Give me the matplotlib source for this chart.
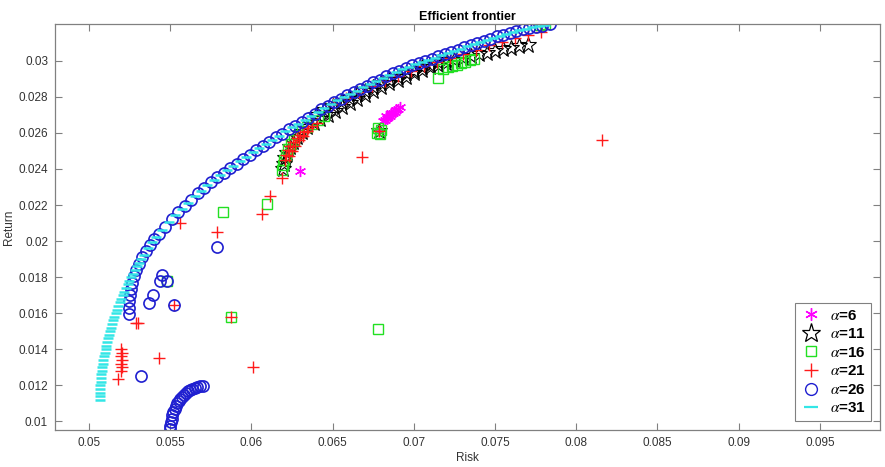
import matplotlib
matplotlib.use("Agg")
import matplotlib.pyplot as plt
from matplotlib.lines import Line2D

plt.rcParams['font.family'] = ['Liberation Sans', 'DejaVu Sans']
plt.rcParams['mathtext.fontset'] = 'stix'

# ---------------- data ----------------
legend_labels = [r'$\alpha$=6', r'$\alpha$=11', r'$\alpha$=16', r'$\alpha$=21', r'$\alpha$=26', r'$\alpha$=31']

# alpha = 6 (magenta *)
a6_risk = [0.06299, 0.06785, 0.06812, 0.06822, 0.06832, 0.06842, 0.06852, 0.06862, 0.06872,
           0.06882, 0.06892, 0.06902, 0.06912, 0.06830, 0.06860, 0.06890]
a6_ret = [0.02391, 0.02612, 0.02665, 0.02672, 0.02680, 0.02688, 0.02695, 0.02703, 0.02711,
          0.02718, 0.02726, 0.02733, 0.02742, 0.02692, 0.02712, 0.02725]

# alpha = 11 (black pentagram)
a11_risk = [0.06196, 0.06200, 0.06208, 0.06220, 0.06235, 0.06255, 0.06280, 0.06310, 0.06345,
            0.06385, 0.06425, 0.06470, 0.06515, 0.06560, 0.06605, 0.06650, 0.06700, 0.06750,
            0.06800, 0.06850, 0.06900, 0.06950, 0.07000, 0.07050, 0.07100, 0.07150, 0.07200,
            0.07250, 0.07300, 0.07350, 0.07400, 0.07450, 0.07500, 0.07550, 0.07600, 0.07650,
            0.07700, 0.06785,
            0.06400, 0.06450, 0.06500, 0.06550, 0.06600, 0.06650, 0.06700, 0.06750, 0.06800,
            0.06850, 0.06900, 0.06950, 0.07000, 0.07050, 0.07100, 0.07150, 0.07200]
a11_ret = [0.02400, 0.02430, 0.02460, 0.02490, 0.02520, 0.02550, 0.02578, 0.02605, 0.02630,
           0.02655, 0.02675, 0.02698, 0.02720, 0.02742, 0.02765, 0.02787, 0.02810, 0.02832,
           0.02855, 0.02876, 0.02895, 0.02912, 0.02930, 0.02948, 0.02963, 0.02977, 0.02990,
           0.03002, 0.03013, 0.03025, 0.03035, 0.03045, 0.03055, 0.03063, 0.03072, 0.03080,
           0.03087, 0.02612,
           0.02700, 0.02725, 0.02750, 0.02772, 0.02795, 0.02815, 0.02835, 0.02857, 0.02875,
           0.02895, 0.02912, 0.02930, 0.02946, 0.02963, 0.02977, 0.02992, 0.03005]

# alpha = 16 (green square)
a16_risk = [0.05827, 0.06097, 0.05874, 0.06781, 0.05478, 0.06772, 0.06790, 0.06780, 0.06795,
            0.06186, 0.06192, 0.06200, 0.06212, 0.06226, 0.06242, 0.06262, 0.06285, 0.06312,
            0.06342, 0.06375, 0.06410, 0.06450,
            0.07150, 0.07182, 0.07210, 0.07235, 0.07263, 0.07290, 0.07318, 0.07345, 0.07370,
            0.07776, 0.07810]
a16_ret = [0.02163, 0.02205, 0.01577, 0.01512, 0.01778, 0.02600, 0.02595, 0.02625, 0.02615,
           0.02392, 0.02420, 0.02450, 0.02480, 0.02510, 0.02538, 0.02563, 0.02587, 0.02610,
           0.02632, 0.02652, 0.02672, 0.02692,
           0.02904, 0.02955, 0.02965, 0.02970, 0.02978, 0.02988, 0.02996, 0.03006, 0.03012,
           0.03200, 0.03203]

# alpha = 21 (red +)
a21_risk = [0.05289, 0.05305, 0.05198, 0.05202, 0.05198, 0.05202, 0.05198, 0.05202, 0.05200,
            0.05176, 0.05431, 0.06012, 0.05874, 0.05786, 0.05560, 0.05523, 0.06114, 0.06065,
            0.06186, 0.06681, 0.08158, 0.06785,
            0.06207, 0.06215, 0.06227, 0.06240, 0.06258, 0.06278, 0.06299, 0.06323, 0.06350,
            0.06375, 0.06402, 0.06230, 0.06250, 0.06270, 0.06295, 0.06320, 0.06345,
            0.06500, 0.06580, 0.06660, 0.06740, 0.06820, 0.06900, 0.06980, 0.07060, 0.07140,
            0.07220, 0.07300, 0.07380, 0.07460, 0.07540, 0.07620, 0.07700, 0.07780]
a21_ret = [0.01547, 0.01545, 0.01280, 0.01300, 0.01320, 0.01340, 0.01360, 0.01380, 0.01400,
           0.01235, 0.01349, 0.01301, 0.01577, 0.02052, 0.02100, 0.01645, 0.02250, 0.02148,
           0.02348, 0.02468, 0.02560, 0.02612,
           0.02449, 0.02478, 0.02505, 0.02530, 0.02551, 0.02570, 0.02588, 0.02607, 0.02625,
           0.02640, 0.02653, 0.02470, 0.02500, 0.02530, 0.02560, 0.02585, 0.02610,
           0.02760, 0.02795, 0.02828, 0.02860, 0.02890, 0.02918, 0.02945, 0.02970, 0.02993,
           0.03015, 0.03040, 0.03062, 0.03085, 0.03105, 0.03125, 0.03144, 0.03160]

# alpha = 26 (blue circle)
a26_risk = [0.05248, 0.05247, 0.05249, 0.05253, 0.05259, 0.05267, 0.05278, 0.05292, 0.05309,
            0.05329, 0.05351, 0.05375, 0.05400,
            0.0543, 0.0547, 0.0551, 0.0555, 0.0559, 0.0563, 0.0567, 0.0571, 0.0575, 0.0579,
            0.0583, 0.0587, 0.0591, 0.0595, 0.0599, 0.0603, 0.0607, 0.0611, 0.0615, 0.0619,
            0.0623, 0.0627, 0.0631, 0.0635, 0.0639, 0.0643, 0.0647, 0.0651, 0.0655, 0.0659,
            0.0663, 0.0667, 0.0671, 0.0675, 0.0679, 0.0683, 0.0687, 0.0691, 0.0695, 0.0699,
            0.0703, 0.0707, 0.0711, 0.0715, 0.0719, 0.0723, 0.0727, 0.0731, 0.0735, 0.0739,
            0.0743, 0.0747, 0.0751, 0.0755, 0.0759, 0.0763, 0.0767, 0.0771, 0.0775, 0.0779,
            0.0784,
            0.05500, 0.05502, 0.05505, 0.05509, 0.05514, 0.05520, 0.05527, 0.05535, 0.05544,
            0.05553, 0.05563, 0.05574, 0.05585, 0.05597, 0.05610, 0.05623, 0.05637, 0.05652,
            0.05667, 0.05685, 0.05704,
            0.05786, 0.05447, 0.05437, 0.05478, 0.05392, 0.05369, 0.05523, 0.05320]
a26_ret = [0.01593, 0.01630, 0.01665, 0.01700, 0.01735, 0.01770, 0.01805, 0.01840, 0.01875,
           0.01910, 0.01945, 0.01980, 0.02010,
           0.02040, 0.02080, 0.02125, 0.02160, 0.02195, 0.02230, 0.02265, 0.02295, 0.02325, 0.02355,
           0.02380, 0.02405, 0.02430, 0.02455, 0.02480, 0.02505, 0.02525, 0.02550, 0.02575, 0.02595,
           0.02620, 0.02640, 0.02660, 0.02685, 0.02705, 0.02730, 0.02750, 0.02770, 0.02790, 0.02810,
           0.02825, 0.02845, 0.02860, 0.02880, 0.02895, 0.02915, 0.02930, 0.02945, 0.02960, 0.02975,
           0.02985, 0.03000, 0.03010, 0.03025, 0.03035, 0.03050, 0.03060, 0.03075, 0.03085, 0.03100,
           0.03110, 0.03120, 0.03135, 0.03145, 0.03155, 0.03165, 0.03175, 0.03180, 0.03190, 0.03195,
           0.03202,
           0.00955, 0.00975, 0.00995, 0.01015, 0.01035, 0.01053, 0.01070, 0.01085, 0.01100,
           0.01113, 0.01125, 0.01137, 0.01148, 0.01158, 0.01167, 0.01175, 0.01182, 0.01187,
           0.01191, 0.01194, 0.01196,
           0.01968, 0.01811, 0.01780, 0.01778, 0.01700, 0.01658, 0.01645, 0.01253]

# alpha = 31 (cyan -)
a31_risk = [0.05066, 0.05067, 0.05068, 0.05070, 0.05071, 0.05073, 0.05075, 0.05077, 0.05079,
            0.05082, 0.05085, 0.05089, 0.05093, 0.05098, 0.05103, 0.05108, 0.05113, 0.05118,
            0.05124, 0.05130, 0.05136, 0.05143, 0.05150, 0.05157, 0.05165, 0.05173, 0.05181,
            0.05190, 0.05199, 0.05208, 0.05218, 0.05228, 0.05238, 0.05249, 0.05260, 0.05272,
            0.05284, 0.05297, 0.05310, 0.05323,
            0.05340, 0.05365, 0.05390, 0.0541, 0.0545, 0.0549, 0.0553, 0.0557, 0.0561, 0.0565,
            0.0569, 0.0573, 0.0577, 0.0581, 0.0585, 0.0589, 0.0593, 0.0597, 0.0601, 0.0605,
            0.0609, 0.0613, 0.0617, 0.0621, 0.0625, 0.0629, 0.0633, 0.0637, 0.0641, 0.0645,
            0.0649, 0.0653, 0.0657, 0.0661, 0.0665, 0.0669, 0.0673, 0.0677, 0.0681, 0.0685,
            0.0689, 0.0693, 0.0697, 0.0701, 0.0705, 0.0709, 0.0713, 0.0717, 0.0721, 0.0725,
            0.0729, 0.0733, 0.0737, 0.0741, 0.0745, 0.0749, 0.0753, 0.0757, 0.0761, 0.0765,
            0.0769, 0.0773, 0.0777, 0.0781]
a31_ret = [0.0112, 0.0114, 0.0116, 0.0118, 0.0120, 0.0122, 0.0124, 0.0126, 0.0128,
           0.0130, 0.0132, 0.0134, 0.0136, 0.0138, 0.0140, 0.0142, 0.0144, 0.0146,
           0.0148, 0.0150, 0.0152, 0.0154, 0.0156, 0.0158, 0.0160, 0.0162, 0.0164,
           0.0166, 0.0168, 0.0170, 0.0172, 0.0174, 0.0176, 0.0178, 0.0180, 0.0182,
           0.0184, 0.0186, 0.0188, 0.0190,
           0.01925, 0.01960, 0.01995, 0.02020, 0.02060, 0.02105, 0.02145, 0.02178, 0.02213, 0.02248,
           0.02280, 0.02310, 0.02340, 0.02368, 0.02393, 0.02418, 0.02443, 0.02468, 0.02493, 0.02515,
           0.02538, 0.02563, 0.02585, 0.02608, 0.02630, 0.02650, 0.02673, 0.02695, 0.02718, 0.02740,
           0.02760, 0.02780, 0.02800, 0.02818, 0.02835, 0.02853, 0.02870, 0.02888, 0.02905, 0.02923,
           0.02938, 0.02953, 0.02968, 0.02980, 0.02993, 0.03005, 0.03018, 0.03030, 0.03043, 0.03055,
           0.03068, 0.03080, 0.03093, 0.03105, 0.03115, 0.03128, 0.03140, 0.03150, 0.03160, 0.03170,
           0.03178, 0.03185, 0.03193, 0.03198]

x_ticks = [0.05, 0.055, 0.06, 0.065, 0.07, 0.075, 0.08, 0.085, 0.09, 0.095]
x_tick_labels = ['0.05', '0.055', '0.06', '0.065', '0.07', '0.075', '0.08', '0.085', '0.09', '0.095']
y_ticks = [0.01, 0.012, 0.014, 0.016, 0.018, 0.02, 0.022, 0.024, 0.026, 0.028, 0.03]
y_tick_labels = ['0.01', '0.012', '0.014', '0.016', '0.018', '0.02', '0.022', '0.024', '0.026', '0.028', '0.03']

# ---------------- figure ----------------
fig = plt.figure(figsize=(8.85, 4.67), dpi=100)
ax = fig.add_axes([0.0621, 0.0792, 0.9323, 0.8694])

C_MAG = '#ff00ff'
C_BLK = '#000000'
C_GRN = '#22e022'
C_RED = '#ff1a1a'
C_BLU = '#1f1fd0'
C_CYN = '#33e6e6'
ASTER = (6, 2, 0)

ax.plot(a6_risk, a6_ret, ls='none', marker=ASTER, ms=8, mec=C_MAG, mfc=C_MAG, mew=1.0)
ax.plot(a11_risk, a11_ret, ls='none', marker='*', ms=12, mec=C_BLK, mfc='none', mew=0.8)
ax.plot(a16_risk, a16_ret, ls='none', marker='s', ms=6.5, mec=C_GRN, mfc='none', mew=1.0)
ax.plot(a21_risk, a21_ret, ls='none', marker='+', ms=8, mec=C_RED, mew=1.0)
ax.plot(a26_risk, a26_ret, ls='none', marker='o', ms=8, mec=C_BLU, mfc='none', mew=1.2)
ax.plot(a31_risk, a31_ret, ls='none', marker='_', ms=7, mec=C_CYN, mew=1.8)

ax.set_xlim(0.04791, 0.0987)
ax.set_ylim(0.00952, 0.03204)
ax.set_xticks(x_ticks)
ax.set_xticklabels(x_tick_labels)
ax.set_yticks(y_ticks)
ax.set_yticklabels(y_tick_labels)

SP = '#808080'
for s in ax.spines.values():
    s.set_color(SP)
    s.set_linewidth(0.9)
ax.tick_params(direction='in', top=True, right=True, length=5, width=0.8, color=SP,
               labelsize=8.5, labelcolor='#333333', pad=5)

ax.set_title('Efficient frontier', fontsize=9, fontweight='bold', pad=3)
ax.set_xlabel('Risk', fontsize=8.5, color='#333333', labelpad=2)
ax.set_ylabel('Return', fontsize=8.5, color='#333333', labelpad=2)

handles = [
    Line2D([], [], ls='none', marker=ASTER, ms=9, mec=C_MAG, mfc=C_MAG, mew=1.0),
    Line2D([], [], ls='none', marker='*', ms=14, mec=C_BLK, mfc='none', mew=0.9),
    Line2D([], [], ls='none', marker='s', ms=7, mec=C_GRN, mfc='none', mew=1.0),
    Line2D([], [], ls='none', marker='+', ms=10, mec=C_RED, mew=1.0),
    Line2D([], [], ls='none', marker='o', ms=8.5, mec=C_BLU, mfc='none', mew=1.0),
    Line2D([], [], ls='none', marker='_', ms=10, mec=C_CYN, mew=1.6),
]
leg = ax.legend(handles, legend_labels, loc='lower right', prop={'size': 11, 'weight': 'bold'},
                frameon=True, fancybox=False, edgecolor='#808080', framealpha=1,
                handlelength=1.3, handletextpad=0.6, labelspacing=0.3, borderpad=0.35,
                borderaxespad=0.6)
leg.get_frame().set_linewidth(0.8)

fig.savefig('out.png', dpi=100)
